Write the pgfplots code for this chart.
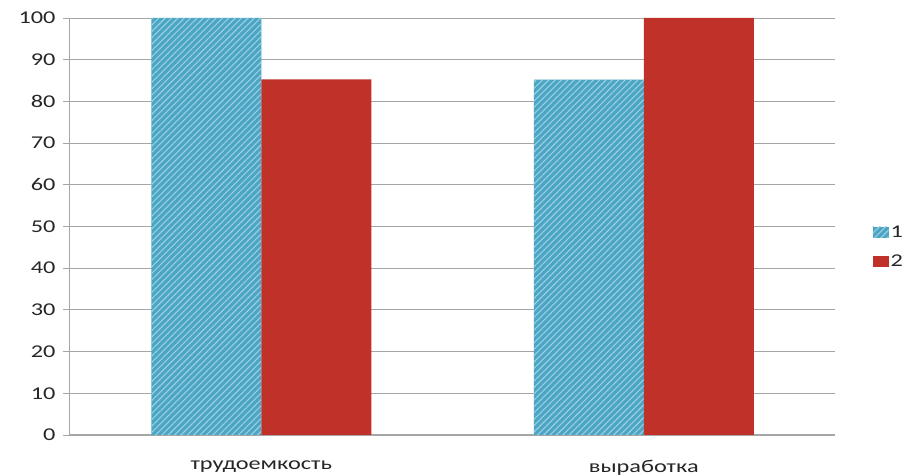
\documentclass[border=0pt]{standalone}
\usepackage{pgfplots}
\pgfplotsset{compat=1.18}
\usepackage{fontspec}
\setmainfont{Carlito}[FakeStretch=1.35]
\usetikzlibrary{patterns.meta}
\definecolor{cblue}{RGB}{75,166,198}
\definecolor{cred}{RGB}{192,49,42}
\definecolor{cgrid}{RGB}{166,166,166}
\begin{document}
\begin{tikzpicture}
\begin{axis}[
  at={(0,0)}, anchor=south west,
  scale only axis, width=765pt, height=417pt,
  ybar=0pt, bar width=110pt,
  xmin=-0.5, xmax=1.5, ymin=0, ymax=100,
  xtick={0,1}, xticklabels={трудоемкость, выработка},
  x tick style={draw=none},
  extra x ticks={-0.5,0.5,1.5}, extra x tick labels={},
  extra x tick style={major tick length=7pt, tick align=outside, major tick style={draw=cgrid, line width=0.8pt}, grid=none},
  xticklabel style={yshift=-15pt},
  yticklabel style={xshift=-4pt},
  ytick={0,10,...,100},
  ymajorgrids, major grid style={cgrid, line width=0.9pt},
  y tick style={draw=cgrid, line width=0.8pt}, major tick length=7pt, tick align=outside,
  axis x line*=bottom, axis y line*=left,
  axis line style={-, draw=cgrid, line width=1pt},
  tick label style={font=\fontsize{18}{20}\selectfont, text=black!85},
  /pgf/number format/assume math mode=true,
  legend style={at={(rel axis cs:1.045,0.45)}, anchor=west, draw=none, fill=none,
    font=\fontsize{18}{20}\selectfont, text=black!85, row sep=12pt},
  legend image code/.code={\fill[#1] (0pt,-5pt) rectangle (16pt,6pt);},
]
\addplot[fill=cblue, draw=none, postaction={pattern={Lines[angle=45, distance=4.5pt, line width=1.1pt]}, pattern color=white!45!cblue}]
  coordinates {(0,100) (1,85.2)};
\addplot[fill=cred, draw=none] coordinates {(0,85.3) (1,100)};
\legend{1,2}
\end{axis}
\pgfresetboundingbox
\path[use as bounding box] (-70pt,-41pt) rectangle (838pt,435pt);
\end{tikzpicture}
\end{document}
